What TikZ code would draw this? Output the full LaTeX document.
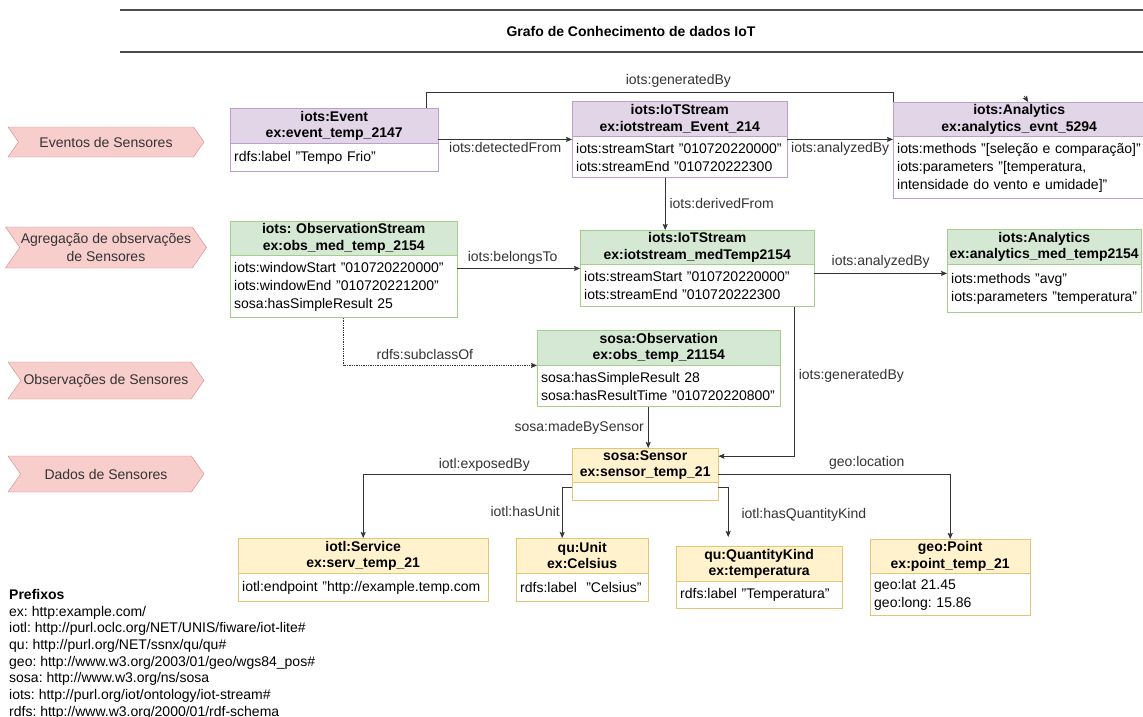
\documentclass[tikz,border=0pt]{standalone}
\usepackage{fontspec}
\setmainfont{Liberation Sans}
\usepackage{tikz}
\usetikzlibrary{shapes.symbols,arrows.meta,positioning,calc}
\definecolor{evfill}{HTML}{E1D5E7}
\definecolor{evline}{HTML}{BBA0CB}
\definecolor{obfill}{HTML}{D5E8D4}
\definecolor{obline}{HTML}{A3CF8A}
\definecolor{snfill}{HTML}{FFF2CC}
\definecolor{snline}{HTML}{E3C577}
\definecolor{lvfill}{HTML}{F8CECC}
\definecolor{lvline}{HTML}{D48684}
\definecolor{edgegray}{HTML}{333333}
\frenchspacing

\begin{document}
\begin{tikzpicture}[
  x=1pt, y=-1pt,
  font=\fontsize{14}{18}\selectfont,
  hd/.style={draw, anchor=north west, align=center, inner xsep=2pt, inner ysep=1pt,
             font=\fontsize{14}{16.5}\selectfont\bfseries},
  bd/.style={draw, fill=white, align=left, inner xsep=4pt, inner ysep=1pt, below=0pt of #1},
  lvl/.style={signal, signal to=east, signal from=west, signal pointer angle=110,
              draw=lvline, fill=lvfill, text=edgegray, align=center, minimum width=196pt, inner sep=1pt},
  ar/.style={-{Stealth[length=6pt, width=5pt, inset=1pt]}, edgegray, line width=0.75pt},
  ln/.style={edgegray, line width=0.75pt},
  lb/.style={font=\fontsize{14}{17}\selectfont, text=edgegray, inner sep=2pt}
]
\useasboundingbox (0,0) rectangle (1143,717);

\draw[line width=1.6pt, black!70] (120,10) -- (1143,10);
\draw[line width=1.6pt, black!70] (120,52) -- (1143,52);
\node[font=\fontsize{14}{17}\selectfont\bfseries] (title) at (631,31) {Grafo de Conhecimento de dados IoT};

\node[lvl, minimum height=30pt] (lvEv) at (106,142) {Eventos de Sensores};
\node[lvl, minimum height=41pt] (lvAg) at (106,247.5) {Agregação de observações\\de Sensores};
\node[lvl, minimum height=37pt] (lvOb) at (106,380.5) {Observações de Sensores};
\node[lvl, minimum height=36pt] (lvDa) at (106,474) {Dados de Sensores};

\node[hd, fill=evfill, draw=evline, text width=204pt, minimum height=35pt] (evtH) at (230,108) {iots:Event\\ex:event\_temp\_2147};
\node[bd=evtH, draw=evline, text width=200pt, minimum height=28pt] (evtB) {rdfs:label "Tempo Frio"};
\node[hd, fill=evfill, draw=evline, text width=211pt, minimum height=35pt] (evsH) at (572,101) {iots:IoTStream\\ex:iotstream\_Event\_214};
\node[bd=evsH, draw=evline, text width=207pt, minimum height=41pt] (evsB) {iots:streamStart "010720220000"\\iots:streamEnd "010720222300};
\node[hd, fill=evfill, draw=evline, text width=248pt, minimum height=34pt] (evaH) at (893,102) {iots:Analytics\\ex:analytics\_evnt\_5294};
\node[bd=evaH, draw=evline, text width=244pt, minimum height=62pt] (evaB) {iots:methods "[seleção e comparação]"\\iots:parameters "[temperatura,\\intensidade do vento e umidade]"};

\node[hd, fill=obfill, draw=obline, text width=223pt, minimum height=34pt] (obsH) at (230,221) {iots: ObservationStream\\ex:obs\_med\_temp\_2154};
\node[bd=obsH, draw=obline, text width=219pt, minimum height=62pt] (obsB) {iots:windowStart "010720220000"\\iots:windowEnd "010720221200"\\sosa:hasSimpleResult 25};
\node[hd, fill=obfill, draw=obline, text width=230pt, minimum height=34pt] (medH) at (580,230) {iots:IoTStream\\ex:iotstream\_medTemp2154};
\node[bd=medH, draw=obline, text width=226pt, minimum height=42pt] (medB) {iots:streamStart "010720220000"\\iots:streamEnd "010720222300};
\node[hd, fill=obfill, draw=obline, text width=190pt, minimum height=35pt] (medaH) at (947,229) {iots:Analytics\\ex:analytics\_med\_temp2154};
\node[bd=medaH, draw=obline, text width=186pt, minimum height=48pt] (medaB) {iots:methods "avg"\\iots:parameters "temperatura"};
\node[hd, fill=obfill, draw=obline, text width=239pt, minimum height=35pt] (obsvH) at (537,330) {sosa:Observation\\ex:obs\_temp\_21154};
\node[bd=obsvH, draw=obline, text width=235pt, minimum height=41pt] (obsvB) {sosa:hasSimpleResult 28\\sosa:hasResultTime "010720220800"};

\node[hd, fill=snfill, draw=snline, text width=142pt, minimum height=34pt] (senH) at (572,448) {sosa:Sensor\\ex:sensor\_temp\_21};
\node[bd=senH, draw=snline, text width=138pt, minimum height=18pt] (senB) {};
\node[hd, fill=snfill, draw=snline, text width=246pt, minimum height=35pt] (srvH) at (238,538) {iotl:Service\\ex:serv\_temp\_21};
\node[bd=srvH, draw=snline, text width=242pt, minimum height=28pt] (srvB) {iotl:endpoint "http://example.temp.com};
\node[hd, fill=snfill, draw=snline, text width=128pt, minimum height=35pt] (unitH) at (516,538) {qu:Unit\\ex:Celsius};
\node[bd=unitH, draw=snline, text width=124pt, minimum height=28pt] (unitB) {rdfs:label\ \ "Celsius"};
\node[hd, fill=snfill, draw=snline, text width=162pt, minimum height=35pt] (qkH) at (676,546) {qu:QuantityKind\\ex:temperatura};
\node[bd=qkH, draw=snline, text width=158pt, minimum height=27pt] (qkB) {rdfs:label "Temperatura"};
\node[hd, fill=snfill, draw=snline, text width=156pt, minimum height=34pt] (ptH) at (870,539) {geo:Point\\ex:point\_temp\_21};
\node[bd=ptH, draw=snline, text width=152pt, minimum height=42pt] (ptB) {geo:lat 21.45\\geo:long: 15.86};

\node[anchor=north west, align=left, inner sep=0pt, font=\fontsize{14}{16.7}\selectfont] (prefixes) at (9,589) {%
  \textbf{Prefixos}\\
  ex: http:example.com/\\
  iotl: http://purl.oclc.org/NET/UNIS/fiware/iot-lite\#\\
  qu: http://purl.org/NET/ssnx/qu/qu\#\\
  geo: http://www.w3.org/2003/01/geo/wgs84\_pos\#\\
  sosa: http://www.w3.org/ns/sosa\\
  iots: http://purl.org/iot/ontology/iot-stream\#\\
  rdfs: http://www.w3.org/2000/01/rdf-schema};

\draw[ar] ([yshift=4pt]evtH.south east) -- ([yshift=4pt]evtH.south east -| evsH.west)
  node[midway, below=1pt, lb] {iots:detectedFrom};
\draw[ar] ([yshift=-3pt]evsH.south east) -- ([yshift=-3pt]evsH.south east -| evaH.west)
  node[midway, below=1pt, lb] {iots:analyzedBy};
\draw[ln] ([xshift=-12pt]evtH.north east) |- ([yshift=10pt]evaH.north west)
  node[pos=0.77, above=2pt, lb] {iots:generatedBy} -- (evaH.north west);
\draw[ar] ([xshift=5pt,yshift=6pt]evaH.north) -- ([xshift=9pt]evaH.north);
\draw[ar] ([xshift=-14.5pt]evsB.south) -- ([xshift=-14.5pt]evsB.south |- medH.north)
  node[midway, right=2pt, lb] {iots:derivedFrom};

\draw[ar] ([yshift=-13pt]obsB.north east) -- ([yshift=-13pt]obsB.north east -| medH.west)
  node[pos=0.45, above=2pt, lb] {iots:belongsTo};
\draw[ar] ([yshift=-9pt]medB.north east) -- ([yshift=-9pt]medB.north east -| medaB.west)
  node[midway, above=3pt, lb] {iots:analyzedBy};
\draw[ar, densely dotted] (obsB.south) |- (obsvH.south west)
  node[pos=0.71, above=3pt, lb] {rdfs:subclassOf};
\draw[ar] ([xshift=-20pt]medB.south east) |- ([yshift=9pt]senH.east)
  node[pos=0.23, right=2pt, lb] {iots:generatedBy};
\draw[ar] ([xshift=3pt]senH.north |- obsvB.south) -- ([xshift=3pt]senH.north)
  node[midway, left=2pt, lb] {sosa:madeBySensor};

\draw[ar] ([yshift=-9pt]senH.west) -| (srvH.north)
  node[pos=0.21, above, lb] {iotl:exposedBy};
\draw[ar] ([yshift=-9pt]senH.east) -| (ptH.north)
  node[pos=0.32, above=2pt, lb] {geo:location};
\draw[ar] ([yshift=-5pt]senB.north west) -| ([xshift=-20pt]unitH.north)
  node[pos=0.74, left=0pt, lb] {iotl:hasUnit};
\draw[ar] ([yshift=-5pt]senB.north east) -| ([xshift=-31pt,yshift=9pt]qkH.north)
  node[pos=0.78, right=11pt, lb] {iotl:hasQuantityKind};
\end{tikzpicture}
\end{document}
